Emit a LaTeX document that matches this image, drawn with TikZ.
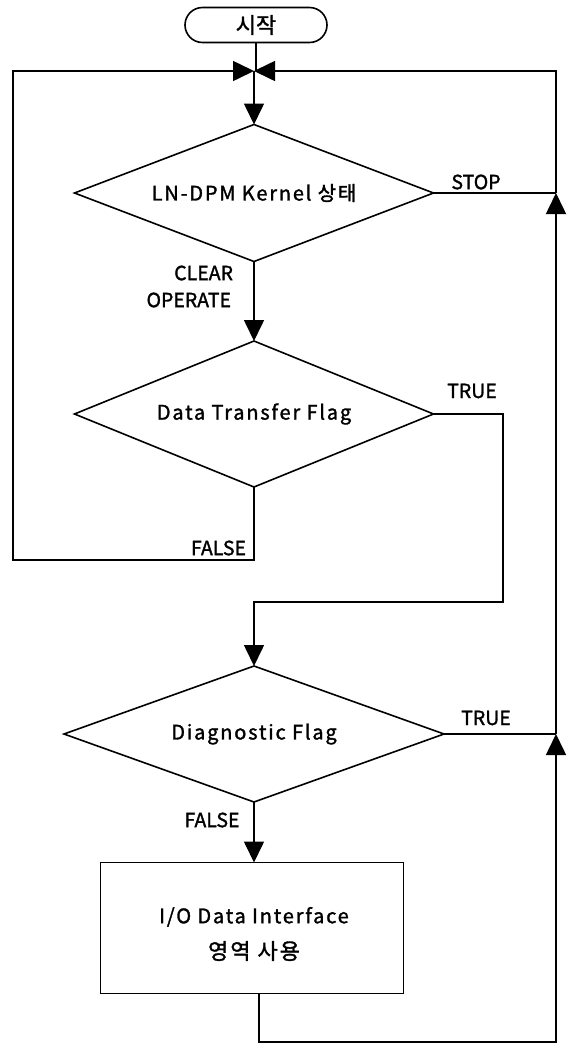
\documentclass[tikz,border=0pt]{standalone}
\usepackage{fontspec}
\setmainfont{Noto Sans CJK KR}[FakeBold=1.5]
\newfontfamily\spaced{Noto Sans CJK KR}[LetterSpace=9,FakeBold=1.5]
\usetikzlibrary{shapes.geometric,shapes.misc,arrows.meta}

\begin{document}
\begin{tikzpicture}[x=1pt,y=-1pt,
  line width=1.6pt,
  every node/.style={inner sep=0pt, outer sep=0pt},
  terminal/.style={draw, rounded rectangle, minimum width=142pt, minimum height=35pt,
    font=\fontsize{22}{24}\selectfont},
  decision/.style={draw, diamond, aspect=2.6, font=\spaced\fontsize{20}{24}\selectfont},
  process/.style={draw, rectangle, minimum width=303pt, minimum height=131pt},
  boxtext/.style={align=center, font=\spaced\fontsize{20}{24}\selectfont},
  lbl/.style={font=\fontsize{19.5}{21}\selectfont},
  flow/.style={-{Triangle[length=21pt,width=20pt]}}]

\useasboundingbox (0,0) rectangle (570,1045);

% blocks
\node[terminal] (start) at (256,25) {\raisebox{-2pt}{시작}};
\node[decision, minimum width=359pt, minimum height=137pt] (kernel) at (254,193) {LN-DPM Kernel 상태};
\node[decision, minimum width=359pt, minimum height=146pt] (xfer) at (254,414) {Data Transfer Flag};
\node[decision, minimum width=380pt, minimum height=136pt] (diag) at (254,734) {Diagnostic Flag};
\node[process] (io) at (252,928) {};
\node[boxtext] (iotext) at (254,934) {I/O Data Interface\\[12pt]{\fontsize{22}{24}\selectfont 영역 사용}};

% junction points
\coordinate (merge) at (254,71);
\coordinate (rtop) at (556,71);
\coordinate (rstop) at (556,193);
\coordinate (rtrue) at (556,734);
\coordinate (rbot) at (556,1042);
\coordinate (iobot) at (259,1042);
\coordinate (ltop) at (13,71);
\coordinate (lbot) at (13,560);
\coordinate (fbot) at (254,560);
\coordinate (tr1) at (503,414);
\coordinate (tr2) at (503,602);
\coordinate (tr3) at (254,602);

% main flow
\draw (start.south) -- (start.south |- merge);
\draw[flow] (merge) -- (kernel.north);
\draw[flow] (kernel.south) -- (xfer.north);
\draw[flow] (diag.south) -- (diag.south |- io.north);

% STOP branch back to the top
\draw (kernel.east) -- (rstop);
\draw[flow] (rstop) -- (rtop) -- (merge);

% FALSE branch of the transfer flag
\draw[flow] (xfer.south) -- (fbot) -- (lbot) -- (ltop) -- (merge);

% TRUE branch of the transfer flag
\draw[flow] (xfer.east) -- (tr1) -- (tr2) -- (tr3) -- (diag.north);

% TRUE branch of the diagnostic flag
\draw (diag.east) -- (rtrue);
\draw[flow] (rtrue) -- (rstop);

% return from the I/O block
\draw[flow] (io.south -| iobot) -- (iobot) -- (rbot) -- (rtrue);

% branch labels
\node[lbl] (lstop) at (476,182) {STOP};
\node[lbl, anchor=east] (lclear) at (233,273) {CLEAR};
\node[lbl, anchor=east] (loper) at (231,300) {OPERATE};
\node[lbl] (ltrue1) at (472,391) {TRUE};
\node[lbl, anchor=east] (lfalse1) at (246,548) {FALSE};
\node[lbl] (ltrue2) at (486,718) {TRUE};
\node[lbl] (lfalse2) at (212,820) {FALSE};
\end{tikzpicture}
\end{document}
